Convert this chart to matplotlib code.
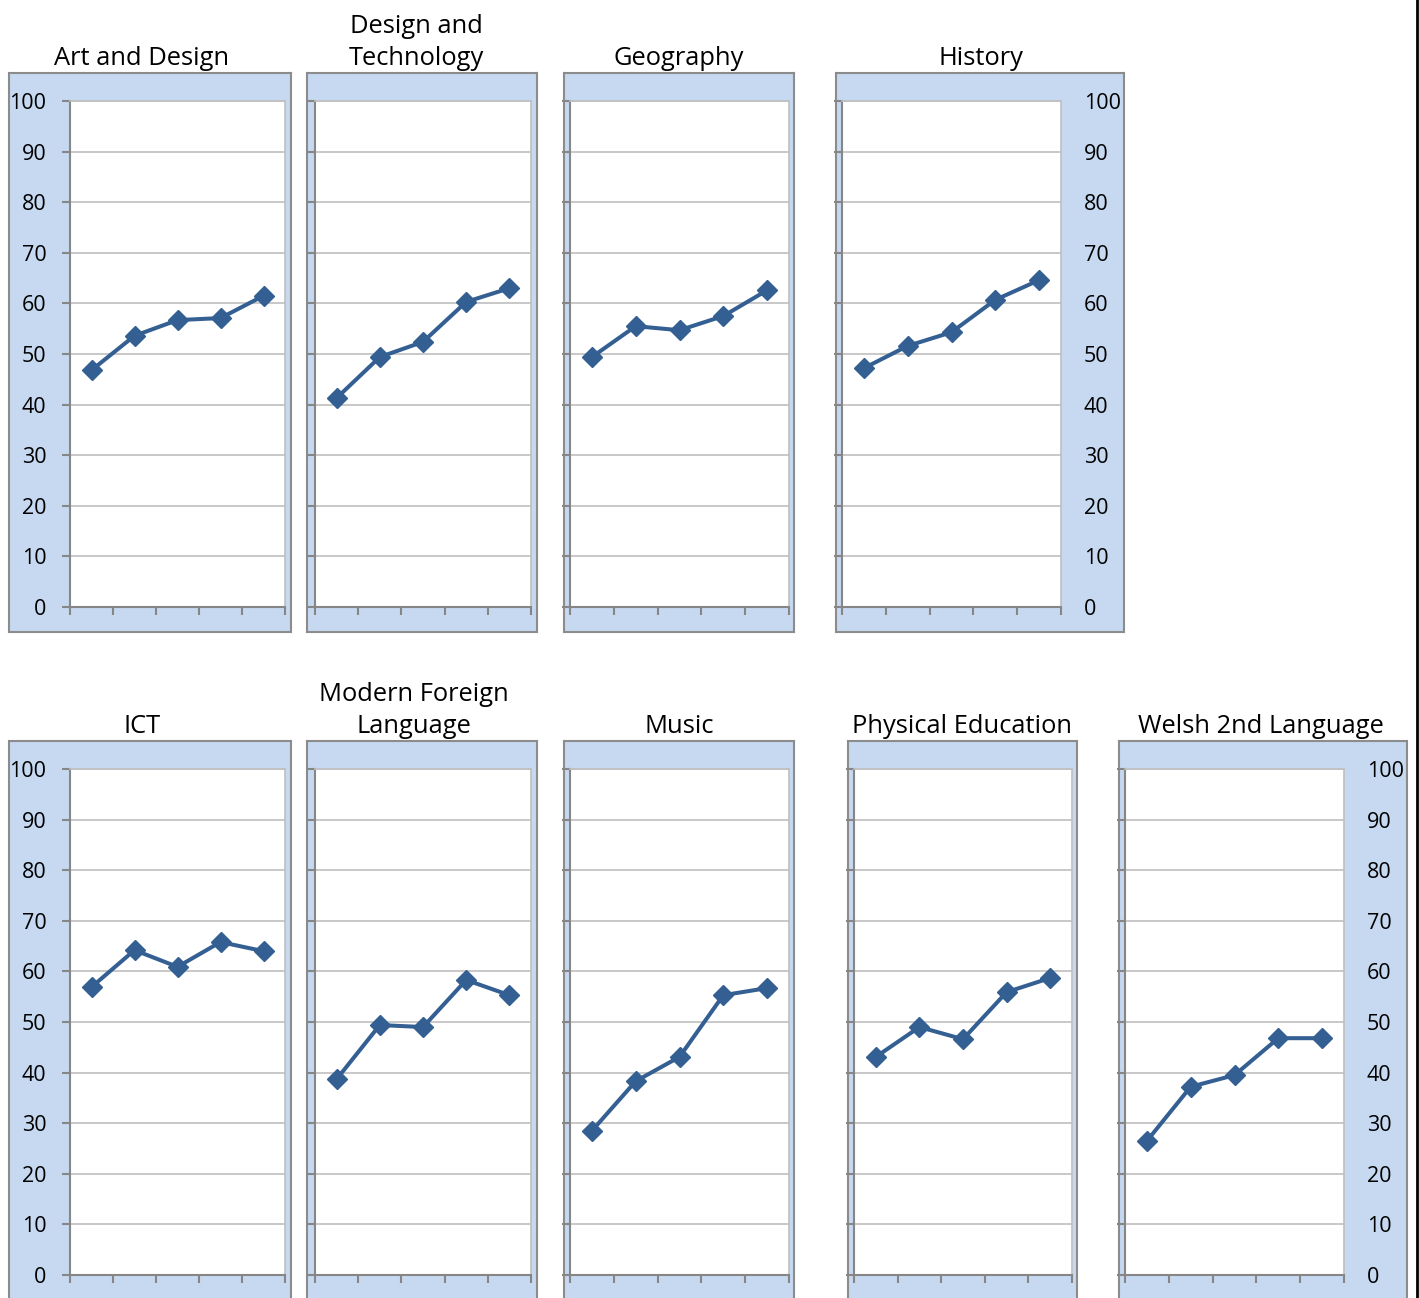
import numpy as np
import matplotlib.pyplot as plt
from matplotlib.lines import Line2D

plt.rcParams['font.family'] = ['Open Sans', 'DejaVu Sans']

subjects = ['Art and Design', 'Design and\nTechnology', 'Geography', 'History',
            'ICT', 'Modern Foreign\nLanguage', 'Music', 'Physical Education',
            'Welsh 2nd Language']
art = [46.8, 53.6, 56.7, 57.1, 61.5]
dt = [41.3, 49.4, 52.4, 60.3, 63.0]
geography = [49.4, 55.5, 54.7, 57.5, 62.6]
history = [47.2, 51.6, 54.3, 60.7, 64.6]
ict = [56.9, 64.2, 60.9, 65.8, 64.0]
mfl = [38.7, 49.4, 49.0, 58.3, 55.3]
music = [28.5, 38.3, 43.1, 55.3, 56.7]
pe = [43.1, 49.0, 46.6, 55.9, 58.7]
welsh = [26.5, 37.2, 39.5, 46.8, 46.8]
series = [art, dt, geography, history, ict, mfl, music, pe, welsh]
yticks = list(range(0, 101, 10))

W, H = 1419, 1298
fig = plt.figure(figsize=(W / 100, H / 100), dpi=100)

# pixel boxes: frame (x0, x1, y0, y1), plot area (x0, x1, y0, y1), label side, title centre x
panels = [
    ((9, 291, 73, 632), (70, 285, 101, 607), 'left', 142),
    ((307, 537, 73, 632), (315, 531, 101, 607), None, 416),
    ((564, 794, 73, 632), (570, 789, 101, 607), None, 679),
    ((836, 1124, 73, 632), (842, 1061, 101, 607), 'right', 981),
    ((9, 291, 741, 1310), (70, 285, 769, 1275), 'left', 142),
    ((307, 537, 741, 1310), (315, 531, 769, 1275), None, 414),
    ((564, 794, 741, 1310), (570, 789, 769, 1275), None, 679),
    ((848, 1077, 741, 1310), (854, 1072, 769, 1275), None, 962),
    ((1119, 1407, 741, 1310), (1125, 1344, 769, 1275), 'right', 1261),
]

line_color = '#345F93'
frame_fill = '#C6D9F1'
frame_edge = '#8C8C8C'
axis_col = '#868686'
grid_col = '#BFBFBF'

for title, vals, (frame, plot, side, tx) in zip(subjects, series, panels):
    fx0, fx1, fy0, fy1 = frame
    fax = fig.add_axes([fx0 / W, 1 - fy1 / H, (fx1 - fx0) / W, (fy1 - fy0) / H])
    fax.set_facecolor(frame_fill)
    fax.set_xticks([])
    fax.set_yticks([])
    for s in fax.spines.values():
        s.set_color(frame_edge)
        s.set_linewidth(1.5)
    fax.set_zorder(0)
    fig.text(tx / W, 1 - (fy0 - 2) / H, title, ha='center', va='bottom',
             fontsize=18.4, linespacing=1.35, multialignment='center')

    px0, px1, py0, py1 = plot
    ax = fig.add_axes([px0 / W, 1 - py1 / H, (px1 - px0) / W, (py1 - py0) / H])
    ax.set_zorder(1)
    ax.set_facecolor('white')
    x = np.arange(len(vals))
    ax.plot(x, vals, color=line_color, lw=2.9, marker='D', markersize=10,
            markeredgecolor=line_color, zorder=3, clip_on=False)
    ax.set_xlim(-0.5, len(vals) - 0.5)
    ax.set_ylim(0, 100)
    ax.set_xticks(np.arange(-0.5, len(vals), 1.0))
    ax.set_xticklabels([])
    ax.set_yticks(yticks)
    ax.yaxis.grid(True, color=grid_col, lw=1.2)
    ax.set_axisbelow(True)
    for s in ['top', 'right']:
        ax.spines[s].set_color(grid_col)
        ax.spines[s].set_linewidth(1.2)
    for s in ['left', 'bottom']:
        ax.spines[s].set_color(axis_col)
        ax.spines[s].set_linewidth(1.5)
    ax.tick_params(axis='both', color=axis_col, width=1.5, length=6, direction='out')
    if side == 'left':
        ax.set_yticklabels([str(v) for v in yticks], fontsize=15.5)
        ax.tick_params(axis='y', pad=11)
    else:
        ax.set_yticklabels([])
    if side == 'right':
        ax2 = ax.twinx()
        ax2.set_ylim(0, 100)
        ax2.set_yticks(yticks)
        ax2.set_yticklabels([str(v) for v in yticks], fontsize=15.5)
        ax2.tick_params(axis='y', length=0, pad=16.5)
        for s in ax2.spines.values():
            s.set_visible(False)

fig.add_artist(Line2D([1417 / W, 1417 / W], [0, 1], transform=fig.transFigure,
                      color='black', lw=2, zorder=5))

plt.savefig('out.png', dpi=100)
